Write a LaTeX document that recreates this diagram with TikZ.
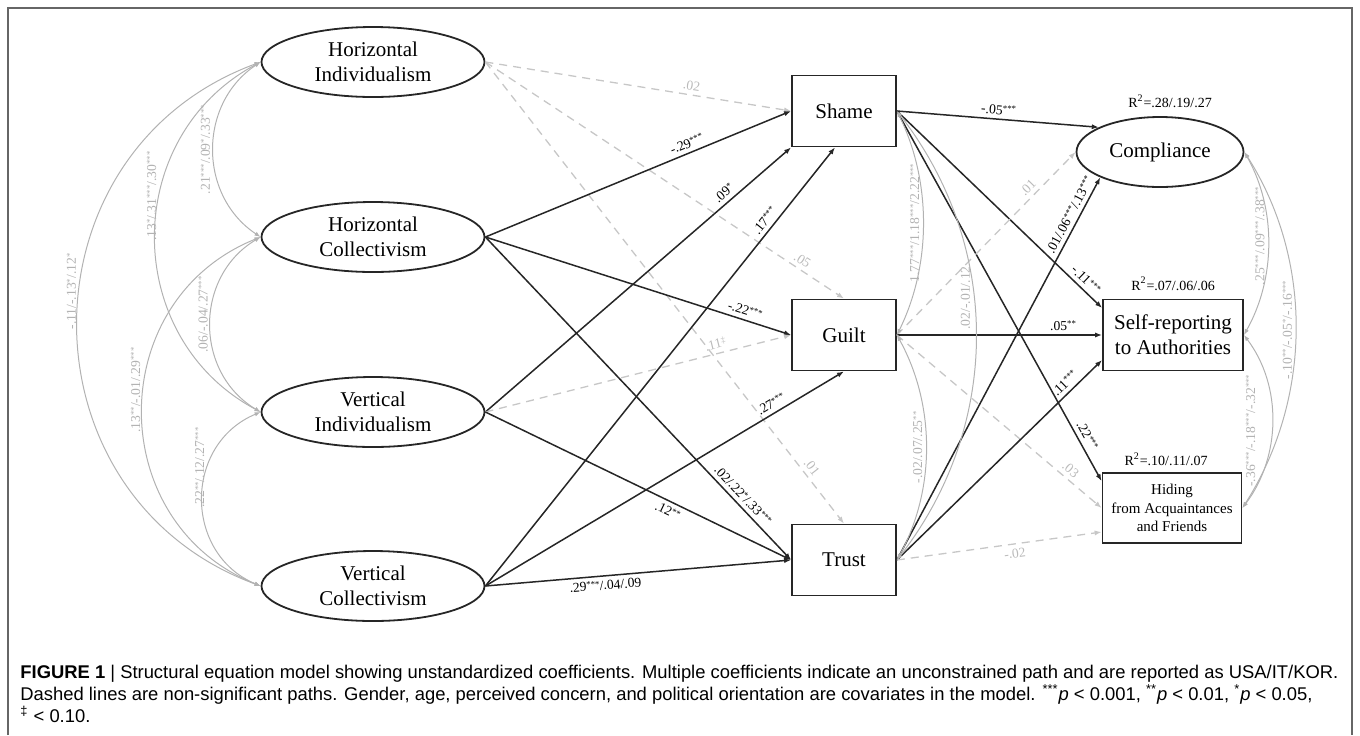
\documentclass[tikz,border=0pt]{standalone}
\usepackage{fontspec}
\setmainfont{Liberation Serif}
\newfontfamily\capfont{Liberation Sans}
\usetikzlibrary{shapes.geometric,arrows.meta,positioning}
\newcommand{\sg}[1]{\raisebox{.55ex}{\fontsize{4.4}{4}\selectfont #1}}
\newcommand{\rsq}[1]{R\textsuperscript{2}=#1}

\begin{document}
\begin{tikzpicture}[x=0.5pt,y=-0.5pt]
    \tikzset{latent/.style={ellipse,draw=black!85,line width=0.9pt,minimum width=111.5pt,minimum height=35pt,inner sep=0pt,align=center,font=\fontsize{10.5}{12.5}\selectfont},
             obs/.style={rectangle,draw=black!85,line width=0.9pt,minimum width=52pt,minimum height=35.5pt,inner sep=0pt,align=center,font=\fontsize{10.5}{12.5}\selectfont},
             sig/.style={-{Latex[length=3.5pt,width=2.6pt]},draw=black!85,line width=0.75pt},
             ns/.style={-{Latex[length=3.5pt,width=2.6pt]},draw=black!22,line width=0.65pt,dash pattern=on 4pt off 3pt},
             cov/.style={{Latex[length=3pt,width=2.2pt]}-{Latex[length=3pt,width=2.2pt]},draw=black!30,line width=0.5pt},
             coef/.style={font=\fontsize{6.8}{7}\selectfont,inner sep=1pt,sloped,above=1pt},
             nscoef/.style={coef,text=black!27},
             covcoef/.style={font=\fontsize{6.8}{7}\selectfont,text=black!30,rotate=90,anchor=south,inner sep=1.5pt},
             rsqlab/.style={font=\fontsize{7}{8}\selectfont,inner sep=1pt}}
    \useasboundingbox (0,0) rectangle (1360,735);
    \draw[draw=black!60,line width=0.6pt] (8,735) -- (8,8) -- (1352,8) -- (1352,735);

    \node[latent] (HI) at (373,62) {Horizontal\\Individualism};
    \node[latent] (HC) at (373,237) {Horizontal\\Collectivism};
    \node[latent] (VI) at (373,412) {Vertical\\Individualism};
    \node[latent] (VC) at (373,586) {Vertical\\Collectivism};
    \node[obs] (Shame) at (844,111) {Shame};
    \node[obs] (Guilt) at (844,335) {Guilt};
    \node[obs] (Trust) at (844,560) {Trust};
    \node[latent,minimum width=83.5pt] (Comp) at (1160,152) {Compliance};
    \node[obs,minimum width=70pt] (Self) at (1173,335) {Self-reporting\\to Authorities};
    \node[obs,minimum width=69.5pt,minimum height=35pt,font=\fontsize{7.5}{9.3}\selectfont] (Hide) at (1172,508) {Hiding\\from Acquaintances\\and Friends};
    \node[rsqlab,above=3pt of Comp,xshift=5pt] (RComp) {\rsq{.28/.19/.27}};
    \node[rsqlab,above=3pt of Self] (RSelf) {\rsq{.07/.06/.06}};
    \node[rsqlab,above=2pt of Hide,xshift=-3pt] (RHide) {\rsq{.10/.11/.07}};

    \draw[ns] (HI.east) -- node[nscoef,pos=.67]{.02} (Shame.west);
    \draw[ns] (HI.east) -- node[nscoef,pos=.87]{.05} (Guilt.north);
    \draw[ns] (HI.east) -- node[nscoef,pos=.89]{.01} (Trust.north);
    \draw[sig] (HC.east) -- node[coef,pos=.67]{-.29\sg{***}} (Shame.west);
    \draw[sig] (HC.east) -- node[coef,pos=.84]{-.22\sg{***}} (Guilt.west);
    \draw[sig] (HC.east) -- node[coef,pos=.82]{.02/.22\sg{*}/.33\sg{***}} (Trust.west);
    \draw[sig] (VI.east) -- node[coef,pos=.80]{.09\sg{*}} (Shame.south west);
    \draw[ns] (VI.east) -- node[nscoef,pos=.76]{.11\sg{‡}} (Guilt.west);
    \draw[sig] (VI.east) -- node[coef,pos=.61,below=1pt]{.12\sg{**}} (Trust.west);
    \draw[sig] (VC.east) -- node[coef,pos=.82]{.17\sg{***}} ([xshift=-4.5pt]Shame.south);
    \draw[sig] (VC.east) -- node[coef,pos=.81]{.27\sg{***}} (Guilt.south);
    \draw[sig] (VC.east) -- node[coef,pos=.39,below=1pt]{.29\sg{***}/.04/.09} (Trust.west);

    \draw[sig] (Shame.east) -- node[coef,pos=.5]{-.05\sg{***}} (Comp.158);
    \draw[sig] (Shame.east) -- node[coef,pos=.89]{-.11\sg{***}} ([yshift=13.5pt]Self.west);
    \draw[sig] (Shame.east) -- node[coef,pos=.89]{.22\sg{***}} ([yshift=-4.5pt]Hide.north west);
    \draw[ns] (Guilt.east) -- node[nscoef,pos=.77]{.01} (Comp.west);
    \draw[sig] (Guilt.east) -- node[coef,pos=.81]{.05\sg{**}} (Self.west);
    \draw[ns] (Guilt.east) -- node[nscoef,pos=.82]{.03} (Hide.west);
    \draw[sig] (Trust.east) -- node[coef,pos=.89]{.01/.06\sg{***}/.13\sg{***}} (Comp.203);
    \draw[sig] (Trust.east) -- node[coef,pos=.85]{.11\sg{***}} ([yshift=-12.5pt]Self.west);
    \draw[ns] (Trust.east) -- node[nscoef,pos=.57,below=1pt]{-.02} ([yshift=-12pt]Hide.west);

    \draw[cov] (HI.west) .. controls +(-62.6,41.5) and +(-62.6,-41.5) .. node[covcoef,pos=.5]{.21\sg{***}/.09\sg{*}/.33\sg{***}} (HC.west);
    \draw[cov] (HI.west) .. controls +(-140,74.6) and +(-140,-74.6) .. node[covcoef,pos=.4]{.13\sg{*}/.31\sg{***}/.30\sg{***}} (VI.west);
    \draw[cov] (HI.west) .. controls +(-243.7,89.6) and +(-243.7,-89.6) .. node[covcoef,pos=.45]{-.11/-.13\sg{*}/.12\sg{*}} (VC.west);
    \draw[cov] (HC.west) .. controls +(-66.5,39.3) and +(-66.5,-39.3) .. node[covcoef,pos=.45]{.06/-.04/.27\sg{***}} (VI.west);
    \draw[cov] (HC.west) .. controls +(-157.3,63.2) and +(-157.3,-63.2) .. node[covcoef,pos=.45]{.13\sg{**}/-.01/.29\sg{***}} (VC.west);
    \draw[cov] (VI.west) .. controls +(-77.2,32.3) and +(-77.2,-32.3) .. node[covcoef,pos=.35]{.22\sg{**}/.12/.27\sg{***}} (VC.west);

    \draw[cov] (Shame.east) .. controls +(34.7,70.3) and +(34.7,-70.3) .. node[covcoef,pos=.5]{1.77\sg{***}/1.18\sg{***}/2.22\sg{***}} (Guilt.east);
    \draw[cov] (Shame.east) .. controls +(105,135) and +(105,-135) .. node[covcoef,pos=.42]{.02/-.01/.12} (Trust.east);
    \draw[cov] (Guilt.east) .. controls +(38.7,70) and +(38.7,-70) .. node[covcoef,pos=.5]{-.02/.07/.25\sg{**}} (Trust.east);

    \draw[cov] (Comp.east) .. controls +(32,56.8) and +(32,-56.8) .. node[covcoef,pos=.46]{.25\sg{***}/.09\sg{***}/.38\sg{***}} (Self.east);
    \draw[cov] (Comp.east) .. controls +(69.4,108.6) and +(69.4,-108.6) .. node[covcoef,pos=.5]{-.10\sg{**}/-.05\sg{*}/-.16\sg{***}} (Hide.east);
    \draw[cov] (Self.east) .. controls +(38.6,51) and +(38.6,-51) .. node[covcoef,pos=.55,yshift=6.5pt]{-.36\sg{***}/-.18\sg{***}/-.32\sg{***}} (Hide.east);

    \node[anchor=north west,align=left,inner sep=0pt,font=\capfont\fontsize{9.2}{11}\selectfont] (cap) at (20,665)
        {\textbf{FIGURE 1} | Structural equation model showing unstandardized coefficients. Multiple coefficients indicate an unconstrained path and are reported as USA/IT/KOR.\\
         Dashed lines are non-significant paths. Gender, age, perceived concern, and political orientation are covariates in the model. \textsuperscript{***}\textit{p} < 0.001, \textsuperscript{**}\textit{p} < 0.01, \textsuperscript{*}\textit{p} < 0.05,\\
         \textsuperscript{‡} < 0.10.};
\end{tikzpicture}
\end{document}
